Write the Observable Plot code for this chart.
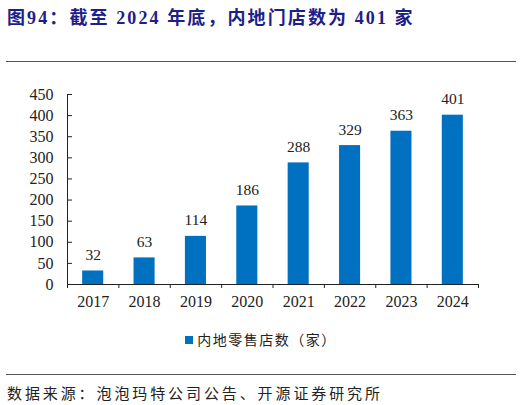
<!DOCTYPE html>
<html>
<head>
<meta charset="utf-8">
<script src="https://cdn.jsdelivr.net/npm/d3@7"></script>
<script src="https://cdn.jsdelivr.net/npm/@observablehq/plot@0.6"></script>
<style>
  body { margin: 0; width: 522px; height: 405px; position: relative; background: #fff; overflow: hidden; }
  .cjk { font-family: "Liberation Serif", "Noto Sans CJK SC", serif; }
  #title { position: absolute; left: 7px; top: 3px; font-size: 18px; font-weight: bold; color: #1d2088; letter-spacing: 2.1px; white-space: nowrap; }
  .hr { position: absolute; left: 6px; width: 510px; height: 0; border-top: 1.5px solid #555; }
  #chart { position: absolute; left: 0; top: 70px; }
  #legend { position: absolute; top: 329px; left: 0; width: 522px; text-align: center; font-size: 14px; letter-spacing: 1.5px; color: #222; }
  #legend i { display: inline-block; width: 8px; height: 8px; background: #0070c0; margin-right: 4px; vertical-align: 1px; }
  #source { position: absolute; left: 7px; top: 382px; font-size: 15px; letter-spacing: 2.9px; color: #222; white-space: nowrap; }
</style>
</head>
<body>
<div id="title" class="cjk">图94：截至 2024 年底，内地门店数为 401 家</div>
<div class="hr" style="top:61px"></div>
<div id="chart"></div>
<div id="legend" class="cjk"><i></i>内地零售店数（家）</div>
<div class="hr" style="top:374px"></div>
<div id="source" class="cjk">数据来源：泡泡玛特公司公告、开源证券研究所</div>
<script>
const years = [2017, 2018, 2019, 2020, 2021, 2022, 2023, 2024]
const stores = [32, 63, 114, 186, 288, 329, 363, 401]
const yTicks = [0, 50, 100, 150, 200, 250, 300, 350, 400, 450]

const data = years.map((y, i) => ({year: y, stores: stores[i]}))
const bounds = [years[0] - 0.5].concat(years.map(y => y + 0.5))
const half = 0.205

const chart = Plot.plot({
  width: 522,
  height: 240,
  marginLeft: 67,
  marginRight: 44,
  marginTop: 24,
  marginBottom: 26,
  x: {domain: [years[0] - 0.5, years[years.length - 1] + 0.5], axis: null},
  y: {domain: [0, 450], axis: null},
  style: {fontFamily: "Liberation Serif, serif", fontSize: "16px", color: "#222", background: "#fff"},
  marks: [
    Plot.rectY(data, {x1: d => d.year - half, x2: d => d.year + half, y: "stores", fill: "#0070c0"}),
    Plot.text(data, {x: "year", y: "stores", text: d => String(d.stores), dy: -16, fontSize: 15.5, fill: "#222"}),
    Plot.ruleY([0], {stroke: "#222", strokeWidth: 1}),
    Plot.ruleX([years[0] - 0.5], {y1: 0, y2: 450, stroke: "#222", strokeWidth: 1}),
    Plot.ruleX(bounds, {x: d => d, y1: 0, y2: 0, insetBottom: -4, stroke: "#222", strokeWidth: 1}),
    Plot.ruleY(yTicks, {y: d => d, x1: years[0] - 0.5, x2: years[0] - 0.5, insetRight: -5, stroke: "#222", strokeWidth: 1}),
    Plot.text(yTicks, {x: years[0] - 0.5, y: d => d, text: d => String(d), textAnchor: "end", dx: -14, fontSize: 16, fill: "#222"}),
    Plot.text(years, {x: d => d, y: 0, text: d => String(d), dy: 17, fontSize: 16, fill: "#222"})
  ]
})
d3.select('#chart').append(() => chart)
</script>
</body>
</html>
